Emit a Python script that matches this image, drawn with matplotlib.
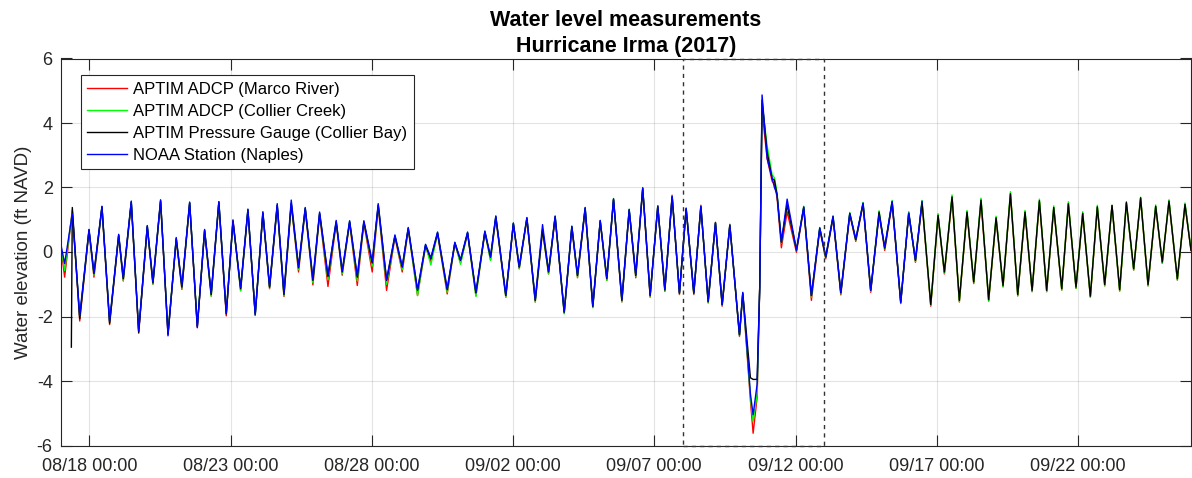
import numpy as np
import pandas as pd
import matplotlib
matplotlib.use("Agg")
import matplotlib.pyplot as plt
import matplotlib.dates as mdates
from matplotlib.patches import Rectangle

plt.rcParams['font.family'] = ['Liberation Sans', 'DejaVu Sans']
plt.rcParams['axes.unicode_minus'] = False

nan = np.nan
start_time = pd.Timestamp("2017-08-17 00:00")

# hours after 2017-08-17 00:00 (tidal highs and lows)
hours = [0.3, 3.1, 8.8, 9.6, 15.9, 23.8, 28.0, 34.8, 41.3, 49.0,
         52.9, 59.7, 66.0, 73.3, 78.1, 84.6, 90.9, 97.9, 102.7, 109.3,
         115.8, 122.0, 127.6, 134.1, 140.4, 146.1, 152.6, 158.8, 165.0, 171.5,
         177.2, 183.7, 189.4, 195.6, 201.8, 207.5, 214.0, 219.7, 226.8, 233.8,
         238.9, 245.2, 251.7, 257.3, 264.4, 269.5, 276.6, 283.7, 289.9, 295.0,
         302.9, 309.7, 314.2, 319.9, 328.1, 334.6, 339.4, 345.4, 352.5, 360.1,
         364.9, 369.4, 377.9, 384.3, 389.3, 395.8, 402.9, 409.1, 414.2, 419.8,
         427.5, 434.0, 438.8, 445.3, 451.8, 458.1, 463.7, 469.4, 476.5, 482.7,
         488.3, 494.2, 500.5, 507.0, 513.0, 519.2, 525.4, 531.1, 537.6, 543.6,
         549.8, 556.0, 561.7, 568.2, 576.4, 579.2, 585.7, 588.0, 591.4, 593.6,
         595.6, 599.9, 604.1, 606.1, 608.3, 612.0, 616.9, 624.8, 631.0, 637.5,
         644.6, 649.7, 655.9, 662.5, 670.1, 675.2, 681.4, 687.9, 695.0, 699.8,
         706.1, 713.4, 720.2, 725.9, 731.5, 738.9, 745.1, 750.5, 757.0, 763.2,
         769.7, 775.4, 781.6, 788.1, 794.4, 800.3, 806.6, 812.8, 819.0, 825.0,
         831.2, 837.4, 843.4, 850.2, 855.8, 862.3, 868.0, 874.5, 880.4, 886.7,
         892.9, 899.4, 905.1, 911.3, 917.2, 923.5, 930.0, 935.6, 941.3, 948.4,
         954.9, 960.0]

marco_river = [0.05, -0.78, nan, 1.30, -2.14, 0.65, -0.78, 1.38, -2.25, 0.50,
               -0.90, 1.52, -2.52, 0.76, -1.00, 1.56, -2.56, 0.38, -1.16, 1.50,
               -2.33, 0.64, -1.36, 1.52, -1.98, 1.00, -1.20, 1.28, -1.96, 1.18,
               -1.14, 1.42, -1.38, 1.48, -0.62, 1.32, -1.02, 1.16, -1.07, 0.90,
               -0.72, 0.90, -1.04, 0.90, -0.62, 1.40, -1.19, 0.46, -0.62, 0.70,
               -1.35, 0.18, -0.30, 0.56, -1.30, 0.26, -0.33, 0.57, -1.35, 0.60,
               -0.24, 1.05, -1.40, 0.86, -0.52, 1.02, -1.55, 0.66, -0.68, 1.06,
               -1.90, 0.75, -0.80, 1.33, -1.72, 0.94, -0.88, 1.61, -1.55, 1.28,
               -0.80, 1.95, -1.40, 1.44, -1.22, 1.76, -1.32, 1.36, -1.32, 1.45,
               -1.58, 0.92, -1.68, 0.86, -2.62, -1.30, -4.60, -5.62, -4.50, -1.10,
               4.35, 2.90, 2.20, 2.10, 1.70, 0.13, 1.25, -0.01, 1.35, -1.50,
               0.70, -0.21, 1.06, -1.33, 1.16, 0.33, 1.47, -1.25, 1.21, 0.05,
               1.52, -1.60, 1.24, -0.32, 1.52, -1.68, 1.12, -0.68, 1.68, -1.55,
               1.22, -0.98, 1.58, -1.52, 1.04, -1.08, 1.78, -1.36, 1.22, -1.23,
               1.56, -1.23, 1.36, -1.18, 1.48, -1.13, 1.18, -1.40, 1.38, -1.05,
               1.43, -1.21, 1.52, -0.56, 1.66, -1.05, 1.40, -0.35, 1.56, -0.87,
               1.46, 0.05]

collier_creek = [0.10, -0.57, nan, 1.25, -2.02, 0.66, -0.72, 1.40, -2.18, 0.52,
                 -0.88, 1.55, -2.45, 0.80, -1.00, 1.59, -2.50, 0.42, -1.12, 1.53,
                 -2.28, 0.68, -1.38, 1.56, -1.90, 0.95, -1.20, 1.32, -1.97, 1.22,
                 -1.12, 1.45, -1.36, 1.52, -0.55, 1.36, -0.95, 1.20, -0.86, 0.95,
                 -0.68, 0.95, -0.90, 0.94, -0.44, 1.45, -1.00, 0.50, -0.55, 0.74,
                 -1.35, 0.22, -0.40, 0.60, -1.25, 0.30, -0.38, 0.60, -1.38, 0.64,
                 -0.26, 1.10, -1.40, 0.90, -0.52, 1.06, -1.55, 0.70, -0.68, 1.12,
                 -1.92, 0.80, -0.78, 1.38, -1.73, 0.98, -0.88, 1.66, -1.54, 1.33,
                 -0.76, 2.00, -1.37, 1.43, -1.20, 1.75, -1.30, 1.36, -1.30, 1.43,
                 -1.56, 0.92, -1.66, 0.85, -2.60, -1.27, -4.50, -5.26, -4.40, -1.10,
                 4.60, 3.30, 2.40, 2.30, 1.85, 0.28, 1.50, 0.05, 1.42, -1.40,
                 0.76, -0.18, 1.12, -1.30, 1.23, 0.36, 1.54, -1.22, 1.28, 0.10,
                 1.60, -1.58, 1.24, -0.30, 1.60, -1.66, 1.19, -0.66, 1.77, -1.54,
                 1.29, -0.96, 1.67, -1.52, 1.11, -1.08, 1.87, -1.36, 1.29, -1.23,
                 1.64, -1.23, 1.43, -1.18, 1.56, -1.13, 1.25, -1.40, 1.45, -1.05,
                 1.44, -1.21, 1.50, -0.56, 1.70, -1.05, 1.46, -0.35, 1.62, -0.87,
                 1.52, 0.08]

collier_bay = [nan, nan, -2.95, 1.38, -2.07, 0.69, -0.67, 1.40, -2.21, 0.52,
               -0.83, 1.55, -2.49, 0.80, -0.96, 1.59, -2.54, 0.41, -1.09, 1.52,
               -2.31, 0.67, -1.32, 1.55, -1.92, 0.95, -1.14, 1.30, -1.92, 1.21,
               -1.09, 1.45, -1.32, 1.50, -0.49, 1.35, -0.88, 1.19, -0.76, 0.93,
               -0.62, 0.93, -0.78, 0.93, -0.34, 1.45, -0.88, 0.49, -0.47, 0.73,
               -1.19, 0.21, -0.21, 0.59, -1.17, 0.28, -0.26, 0.59, -1.27, 0.62,
               -0.16, 1.09, -1.35, 0.88, -0.47, 1.04, -1.50, 0.69, -0.62, 1.09,
               -1.87, 0.78, -0.73, 1.35, -1.69, 0.96, -0.83, 1.63, -1.50, 1.30,
               -0.73, 1.97, -1.35, 1.40, -1.18, 1.71, -1.28, 1.33, -1.28, 1.40,
               -1.54, 0.89, -1.64, 0.82, -2.57, -1.28, -3.90, -3.95, -3.95, -1.10,
               4.71, 3.10, 2.28, 2.23, 1.77, 0.32, 1.46, 0.06, 1.38, -1.35,
               0.73, -0.16, 1.09, -1.27, 1.19, 0.38, 1.50, -1.19, 1.24, 0.12,
               1.55, -1.55, 1.19, -0.26, 1.55, -1.63, 1.14, -0.62, 1.71, -1.50,
               1.24, -0.93, 1.61, -1.48, 1.06, -1.04, 1.81, -1.32, 1.24, -1.19,
               1.59, -1.19, 1.38, -1.14, 1.50, -1.09, 1.20, -1.37, 1.40, -1.01,
               1.45, -1.17, 1.55, -0.52, 1.68, -1.01, 1.42, -0.31, 1.58, -0.83,
               1.48, 0.05]

naples = [0.16, -0.36, nan, 1.19, -1.97, 0.70, -0.65, 1.42, -2.15, 0.55,
          -0.80, 1.58, -2.45, 0.82, -0.93, 1.62, -2.60, 0.45, -1.05, 1.55,
          -2.35, 0.70, -1.28, 1.56, -1.90, 0.98, -1.10, 1.33, -1.95, 1.25,
          -1.06, 1.50, -1.28, 1.61, -0.45, 1.38, -0.84, 1.24, -0.72, 0.98,
          -0.58, 0.97, -0.74, 0.97, -0.30, 1.50, -0.86, 0.53, -0.45, 0.76,
          -1.17, 0.24, -0.18, 0.62, -1.14, 0.30, -0.24, 0.62, -1.25, 0.65,
          -0.14, 1.12, -1.33, 0.90, -0.45, 1.07, -1.48, 0.85, -0.60, 1.11,
          -1.85, 0.80, -0.70, 1.38, -1.67, 0.98, -0.80, 1.65, -1.48, 1.32,
          -0.70, 1.99, -1.33, 1.42, -1.16, 1.73, -1.26, 1.35, -1.26, 1.42,
          -1.52, 0.91, -1.62, 0.84, -2.55, -1.25, -4.40, -5.05, -4.10, -1.10,
          4.87, 2.90, 2.30, 2.00, 1.80, 0.30, 1.64, 0.06, 1.40, -1.35,
          0.75, -0.14, 1.11, -1.25, 1.20, 0.40, 1.52, -1.18, 1.15, 0.15,
          1.57, -1.57, 1.21, -0.24, 1.57] + [nan] * 37

series_labels = ["APTIM ADCP (Marco River)", "APTIM ADCP (Collier Creek)",
                 "APTIM Pressure Gauge (Collier Bay)", "NOAA Station (Naples)"]
series_values = [marco_river, collier_creek, collier_bay, naples]
series_colors = ["#ff0000", "#00ff00", "#000000", "#0000ff"]

x_start = pd.Timestamp("2017-08-17 00:00")
x_end = pd.Timestamp("2017-09-26 00:00")
box_start = pd.Timestamp("2017-09-08 00:00")
box_end = pd.Timestamp("2017-09-13 00:00")
tick_dates = pd.date_range("2017-08-18", "2017-09-22", freq="5D")
y_ticks = [-6, -4, -2, 0, 2, 4, 6]

times = start_time + pd.to_timedelta(np.array(hours), unit="h")

fig = plt.figure(figsize=(11.92, 4.78), dpi=100)
ax = fig.add_axes([61 / 1192, 1 - 445.5 / 478, 1130 / 1192, 387 / 478])

edge = (0.15, 0.15, 0.15)
for vals, lab, col in zip(series_values, series_labels, series_colors):
    v = np.array(vals, dtype=float)
    m = ~np.isnan(v)
    ax.plot(times[m], v[m], color=col, lw=1.0, label=lab)

x0n = mdates.date2num(box_start)
x1n = mdates.date2num(box_end)
ax.add_patch(Rectangle((x0n, -6), x1n - x0n, 12, fill=False, edgecolor="#333333",
                       lw=1.0, linestyle=(0, (3, 3)), zorder=5, clip_on=False))

ax.set_xlim(x_start, x_end)
ax.set_ylim(-6, 6)
ax.set_xticks(tick_dates)
ax.xaxis.set_major_formatter(mdates.DateFormatter("%m/%d %H:%M"))
ax.set_yticks(y_ticks)
ax.grid(True, color=(0.15, 0.15, 0.15), alpha=0.12, lw=0.8)
ax.set_axisbelow(True)
ax.tick_params(direction="in", length=8, width=0.8, color=edge, labelsize=13,
               labelcolor=edge, top=True, right=True, pad=6)
ax.tick_params(axis="x", pad=9)
for s in ax.spines.values():
    s.set_color(edge)
    s.set_linewidth(0.8)

ax.set_ylabel("Water elevation (ft NAVD)", fontsize=13.5, color=edge, labelpad=3)
ax.set_title("Water level measurements\nHurricane Irma (2017)", fontsize=15.5,
             fontweight="bold", pad=5, linespacing=1.3)

leg = ax.legend(loc="upper left", bbox_to_anchor=(0.0174, 0.957), fontsize=12,
                frameon=True, fancybox=False, edgecolor=edge, framealpha=1,
                handlelength=2.4, handletextpad=0.35, labelspacing=0.42,
                borderpad=0.4, borderaxespad=0)
leg.get_frame().set_linewidth(0.8)
for t in leg.get_texts():
    t.set_color("black")

fig.savefig("out.png", dpi=100)
